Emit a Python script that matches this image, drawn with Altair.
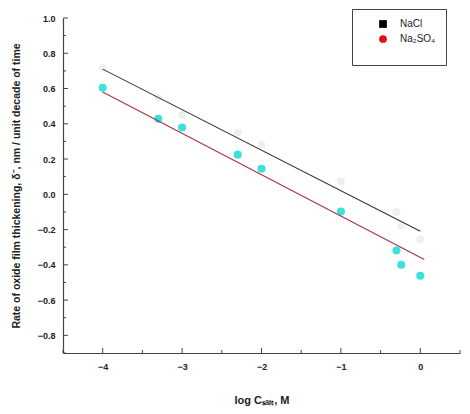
import altair as alt
import pandas as pd

# --- data ---
log_c = [-4.0, -3.3, -3.0, -2.3, -2.0, -1.0, -0.3, -0.24, 0.0]
nacl_rate = [0.717, 0.547, 0.45, 0.35, 0.28, 0.074, -0.10, -0.18, -0.256]
na2so4_rate = [0.604, 0.428, 0.379, 0.225, 0.145, -0.098, -0.319, -0.40, -0.462]

nacl_fit_x = [-4.0, 0.0]
nacl_fit_y = [0.71, -0.21]
na2so4_fit_x = [-4.0, 0.05]
na2so4_fit_y = [0.58, -0.37]

series_names = ["NaCl", "Na₂SO₄"]
legend_colors = ["#000000", "#e01010"]
legend_shapes = ["square", "circle"]

y_major = [-0.8, -0.6, -0.4, -0.2, 0.0, 0.2, 0.4, 0.6, 0.8, 1.0]
y_minor = [-0.9, -0.7, -0.5, -0.3, -0.1, 0.1, 0.3, 0.5, 0.7, 0.9]
x_major = [-4, -3, -2, -1, 0]
x_minor = [-4.5, -3.5, -2.5, -1.5, -0.5, 0.5]

W, H = 397, 335
FONT = "Liberation Sans"

xs = alt.Scale(domain=[-4.5, 0.5], nice=False, zero=False)
ys = alt.Scale(domain=[-0.9, 1.0], nice=False, zero=False)

pts = pd.DataFrame({"x": log_c, "nacl": nacl_rate, "na2so4": na2so4_rate})
fit1 = pd.DataFrame({"x": nacl_fit_x, "y": nacl_fit_y})
fit2 = pd.DataFrame({"x": na2so4_fit_x, "y": na2so4_fit_y})
leg = pd.DataFrame({"series": series_names, "x": [None, None], "y": [None, None]})
ymaj = pd.DataFrame({"v": y_major})
ymin = pd.DataFrame({"v": y_minor})
xmaj = pd.DataFrame({"v": x_major})
xmin = pd.DataFrame({"v": x_minor})

main_x_axis = alt.Axis(
    title="log Cₛₐₗₜ, M", values=x_major, tickCount=40, format="d", ticks=False,
    labelPadding=9, labelFont=FONT, labelFontWeight="bold", labelFontSize=9,
    labelColor="#222", labelOverlap=False,
    titleFont=FONT, titleFontWeight="bold", titleFontSize=11,
    titleColor="#222", titlePadding=23, domainColor="#444", domainWidth=1.2,
    grid=False,
)
main_y_axis = alt.Axis(
    title="Rate of oxide film thickening, δ⁻, nm / unit decade of time",
    values=y_major, tickCount=40, format=".1f", ticks=False,
    labelPadding=8, labelFont=FONT, labelFontWeight="bold", labelFontSize=9,
    labelColor="#222", labelOverlap=False,
    titleFont=FONT, titleFontWeight="bold", titleFontSize=10.5,
    titleColor="#222", titlePadding=16, domainColor="#444", domainWidth=1.2,
    grid=False,
)

nacl_pts = alt.Chart(pts).mark_point(
    filled=True, shape="circle", size=60, color="#efefef", opacity=1
).encode(
    x=alt.X("x:Q", scale=xs, axis=main_x_axis),
    y=alt.Y("nacl:Q", scale=ys, axis=main_y_axis),
)

na2so4_pts = alt.Chart(pts).mark_point(
    filled=True, shape="circle", size=65, color="#3de0dc", opacity=1
).encode(
    x=alt.X("x:Q", scale=xs),
    y=alt.Y("na2so4:Q", scale=ys),
)

line1 = alt.Chart(fit1).mark_line(color="#333333", strokeWidth=1.1).encode(
    x=alt.X("x:Q", scale=xs),
    y=alt.Y("y:Q", scale=ys),
)

line2 = alt.Chart(fit2).mark_line(color="#a8324a", strokeWidth=1.1).encode(
    x=alt.X("x:Q", scale=xs),
    y=alt.Y("y:Q", scale=ys),
)

# inward tick marks
tick_col = "#444"
y_major_ticks = alt.Chart(ymaj).mark_rule(color=tick_col, strokeWidth=1).encode(
    y=alt.Y("v:Q", scale=ys), x=alt.value(0), x2=alt.value(5))
y_minor_ticks = alt.Chart(ymin).mark_rule(color=tick_col, strokeWidth=1).encode(
    y=alt.Y("v:Q", scale=ys), x=alt.value(0), x2=alt.value(3))
x_major_ticks = alt.Chart(xmaj).mark_rule(color=tick_col, strokeWidth=1).encode(
    x=alt.X("v:Q", scale=xs), y=alt.value(H), y2=alt.value(H - 5))
x_minor_ticks = alt.Chart(xmin).mark_rule(color=tick_col, strokeWidth=1).encode(
    x=alt.X("v:Q", scale=xs), y=alt.value(H), y2=alt.value(H - 3))

leg_props = dict(
    title="\u00a0" * 30, titleOrient="bottom", titleFontSize=10, titlePadding=1,
    orient="none", legendX=289, legendY=-9,
    strokeColor="#444", fillColor="white", padding=10,
    labelFont=FONT, labelFontSize=10, labelColor="#222",
    labelOffset=12, symbolOffset=16, symbolSize=60, rowPadding=5,
    symbolStrokeWidth=0,
)
legend_layer = alt.Chart(leg).mark_point(filled=True, size=60, opacity=1).encode(
    x=alt.X("x:Q", scale=xs),
    y=alt.Y("y:Q", scale=ys),
    color=alt.Color("series:N", scale=alt.Scale(domain=series_names, range=legend_colors),
                    legend=alt.Legend(**leg_props)),
    shape=alt.Shape("series:N", scale=alt.Scale(domain=series_names, range=legend_shapes),
                    legend=alt.Legend(**leg_props)),
)

chart = alt.layer(
    nacl_pts, na2so4_pts, line1, line2,
    y_major_ticks, y_minor_ticks, x_major_ticks, x_minor_ticks,
    legend_layer,
).properties(
    width=W, height=H,
    autosize=alt.AutoSizeParams(type="none"),
    padding={"left": 63, "top": 18, "right": 10, "bottom": 61},
    background="white",
).configure_view(stroke=None)

chart.save("out.html", embed_options={"renderer": "svg", "actions": False})
